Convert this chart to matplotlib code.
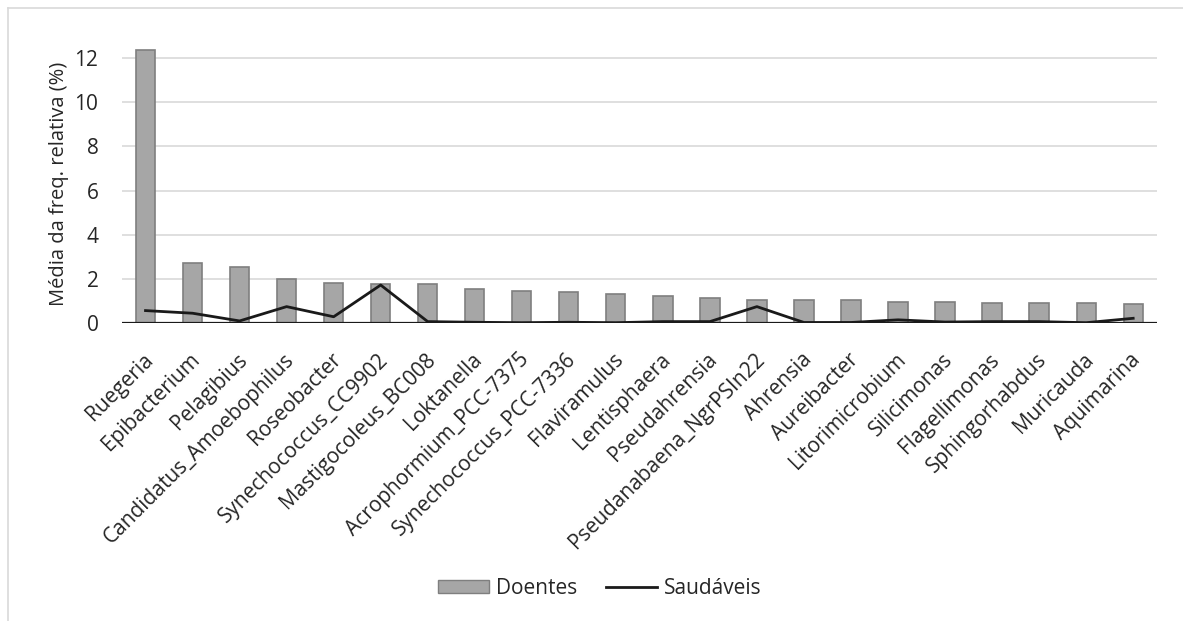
"""Mean relative frequency of genera, sick vs healthy."""

import matplotlib.pyplot as plt
from matplotlib.lines import Line2D
from matplotlib.patches import Patch
from matplotlib.transforms import ScaledTranslation

plt.rcParams['font.family'] = ['Open Sans', 'DejaVu Sans']

GENERA = ['Ruegeria', 'Epibacterium', 'Pelagibius', 'Candidatus_Amoebophilus',
          'Roseobacter', 'Synechococcus_CC9902', 'Mastigocoleus_BC008',
          'Loktanella', 'Acrophormium_PCC-7375', 'Synechococcus_PCC-7336',
          'Flaviramulus', 'Lentisphaera', 'Pseudahrensia',
          'Pseudanabaena_NgrPSIn22', 'Ahrensia', 'Aureibacter',
          'Litorimicrobium', 'Silicimonas', 'Flagellimonas',
          'Sphingorhabdus', 'Muricauda', 'Aquimarina']
DOENTES = [12.38, 2.70, 2.54, 1.97, 1.82, 1.77, 1.76, 1.52, 1.45, 1.39,
           1.29, 1.20, 1.12, 1.04, 1.04, 1.03, 0.95, 0.95, 0.91, 0.91,
           0.88, 0.85]
SAUDAVEIS = [0.55, 0.43, 0.08, 0.73, 0.27, 1.71, 0.05, 0.02, 0.00, 0.02,
             0.00, 0.05, 0.05, 0.73, 0.01, 0.01, 0.13, 0.03, 0.05, 0.05,
             0.00, 0.20]
YTICKS = [0, 2, 4, 6, 8, 10, 12]

TEXT = '#262626'

fig = plt.figure(figsize=(11.83, 6.21), dpi=100)

# frame around the chart area (top and left edges only)
fig.add_artist(Line2D([8 / 1183, 1], [1 - 8 / 621] * 2, color='#d9d9d9', lw=1.2))
fig.add_artist(Line2D([8 / 1183] * 2, [0, 1 - 8 / 621], color='#d9d9d9', lw=1.2))

ax = fig.add_axes([122 / 1183, (621 - 322.7) / 621,
                   (1156.7 - 122) / 1183, 277.6 / 621])
x = range(len(GENERA))
ax.bar(x, DOENTES, width=0.41, color='#a6a6a6', edgecolor='#7f7f7f',
       linewidth=1.2, zorder=2)
ax.plot(x, SAUDAVEIS, color='#1a1a1a', lw=2.0, zorder=3)
ax.axhline(0, color='#1a1a1a', lw=1.6, zorder=4)

ax.set_xlim(-0.5, len(GENERA) - 0.5)
ax.set_ylim(0, 12.6)
ax.set_yticks(YTICKS)
ax.yaxis.grid(True, color='#d9d9d9', lw=1.2, zorder=0)
ax.set_axisbelow(True)
for side in ax.spines.values():
    side.set_visible(False)
ax.tick_params(axis='both', length=0, colors=TEXT)
ax.tick_params(axis='y', pad=17, labelsize=15)
ax.set_xticks(list(x))
ax.set_xticklabels(GENERA, rotation=45, ha='right', va='top',
                   rotation_mode='anchor', fontsize=15)
ax.tick_params(axis='x', pad=19)
shift = ScaledTranslation(-3 / 100, 0, fig.dpi_scale_trans)
for lab in ax.get_xticklabels():
    lab.set_transform(lab.get_transform() + shift)
ax.set_ylabel('Média da freq. relativa (%)', fontsize=14.5, color=TEXT,
              labelpad=4)

ax.legend([Patch(facecolor='#a6a6a6', edgecolor='#7f7f7f'),
           Line2D([], [], color='#1a1a1a', lw=2.0)],
          ['Doentes', 'Saudáveis'], loc='center', ncol=2, frameon=False,
          bbox_to_anchor=(600 / 1183, 1 - 588 / 621),
          bbox_transform=fig.transFigure, fontsize=15, handlelength=2.45,
          handleheight=0.6, columnspacing=1.4, handletextpad=0.33,
          labelcolor=TEXT)

fig.savefig('out.png', dpi=100)
